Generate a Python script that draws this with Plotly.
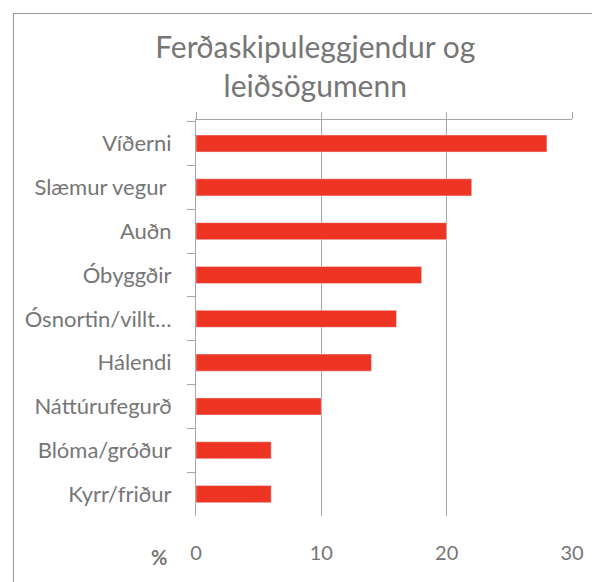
import plotly.graph_objects as go

categories = ['Víðerni', 'Slæmur vegur ', 'Auðn', 'Óbyggðir', 'Ósnortin/villt…',
              'Hálendi', 'Náttúrufegurð', 'Blóma/gróður', 'Kyrr/friður']
values = [28, 22, 20, 18, 16, 14, 10, 6, 6]
x_ticks = [0, 10, 20, 30]

font_family = 'Lato, Open Sans, sans-serif'
text_color = '#767676'
grid_color = '#a6a6a6'
bar_color = '#ee3524'

# page body has an 8px margin, so the figure is drawn 8px smaller
W, H = 592, 574
L, R, T, B = 188, 28, 112, 66
pw, ph = W - L - R, H - T - B

fig = go.Figure(go.Bar(
    x=values,
    y=categories,
    orientation='h',
    marker=dict(color=bar_color),
    width=0.39,
    hoverinfo='skip',
))

fig.update_layout(
    width=W,
    height=H,
    margin=dict(l=L, r=R, t=T, b=B),
    paper_bgcolor='white',
    plot_bgcolor='white',
    font=dict(family=font_family, color=text_color),
    showlegend=False,
    title=dict(
        text='Ferðaskipuleggjendur og<br>leiðsögumenn',
        font=dict(size=30, color=text_color),
        x=0.519, xanchor='center', y=0.913, yanchor='top',
    ),
    xaxis=dict(
        range=[0, 30],
        tickvals=x_ticks,
        showgrid=True,
        gridcolor=grid_color,
        gridwidth=1,
        zeroline=False,
        showline=False,
        ticks='',
        tickfont=dict(size=20, color=text_color),
        ticklabelstandoff=23,
    ),
    xaxis2=dict(
        range=[0, 30],
        overlaying='x',
        side='top',
        tickvals=x_ticks,
        showgrid=False,
        zeroline=False,
        showline=True,
        linecolor=grid_color,
        ticks='outside',
        ticklen=7,
        tickcolor=grid_color,
        showticklabels=False,
    ),
    yaxis=dict(
        autorange='reversed',
        showgrid=False,
        zeroline=False,
        showline=True,
        linecolor=grid_color,
        ticks='outside',
        tickson='boundaries',
        ticklen=8,
        tickcolor=grid_color,
        tickfont=dict(size=22, color=text_color),
        ticklabelstandoff=19,
    ),
    annotations=[
        dict(text='<b>%</b>', x=(141 - L) / pw, y=(H - B - 563) / ph,
             xref='paper', yref='paper', showarrow=False,
             font=dict(size=20, color=text_color)),
        # chart border: a big empty box whose right/bottom edges fall off the page
        dict(text=' ', x=(5 - L) / pw, y=(H - B - 5) / ph,
             xref='paper', yref='paper', xanchor='left', yanchor='top',
             width=700, height=700, showarrow=False,
             bordercolor='#9a9a9a', borderwidth=1, borderpad=0),
    ],
)

# invisible trace so the top axis is drawn
fig.add_trace(go.Scatter(x=[0], y=[categories[0]], xaxis='x2', mode='markers',
                         marker=dict(opacity=0), hoverinfo='skip'))

fig.write_html('out.html')
